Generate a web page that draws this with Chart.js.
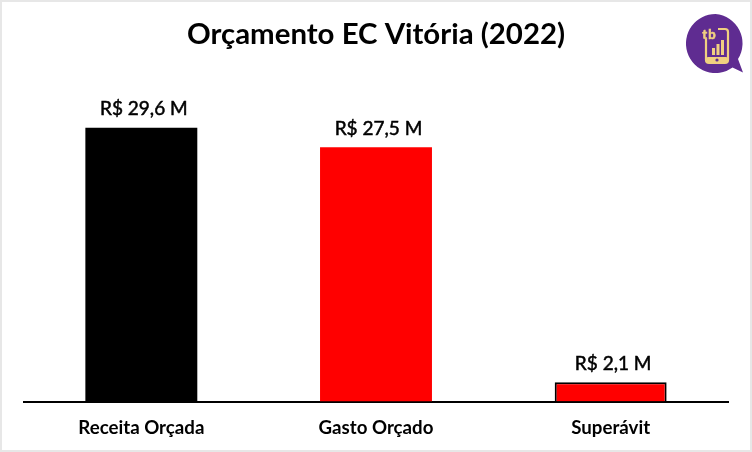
<!DOCTYPE html>
<html lang="pt-BR">
<head>
<meta charset="utf-8">
<title>Orçamento EC Vitória (2022)</title>
<script src="https://cdn.jsdelivr.net/npm/chart.js@4"></script>
<style>
  html, body { margin: 0; padding: 0; background: #fff; }
  #wrap { position: relative; width: 752px; height: 452px; overflow: hidden; }
  #wrap::after { content: ''; position: absolute; inset: 0; border: 2px solid #e7e7e7; pointer-events: none; }
  #logo { position: absolute; left: 686px; top: 14px; width: 62px; height: 62px; }
</style>
</head>
<body>
<div id="wrap">
  <canvas id="chart" width="752" height="452"></canvas>
  <!-- selo "tb" do canto -->
  <svg id="logo" viewBox="0 0 62 62">
    <path d="M29.5 0a29.5 29.5 0 1 0 17 53.6l10.5 5-5-13.5A29.5 29.5 0 0 0 29.5 0z" fill="#5f2c91"/>
    <rect x="20" y="15" width="22" height="34" rx="3" fill="none" stroke="#f0d080" stroke-width="2.2"/>
    <rect x="14" y="13" width="18" height="12" fill="#5f2c91"/>
    <text x="23.5" y="24.5" text-anchor="middle" font-family="Lato" font-weight="900" font-size="13" letter-spacing="1" fill="#f0d080" stroke="#f0d080" stroke-width="0.5">tb</text>
    <rect x="20" y="43" width="22" height="6" rx="2" fill="#f0d080"/>
    <circle cx="31" cy="46" r="1.6" fill="#5f2c91"/>
    <rect x="26" y="34" width="3" height="7" fill="#f0d080"/>
    <rect x="30.5" y="30" width="3" height="11" fill="#f0d080"/>
    <rect x="35" y="26" width="3" height="15" fill="#f0d080"/>
  </svg>
</div>
<script>
// Dados (R$ milhões)
const categories = ['Receita Orçada', 'Gasto Orçado', 'Superávit'];
const values = [29.6, 27.5, 2.1];
const valueLabels = ['R$ 29,6 M', 'R$ 27,5 M', 'R$ 2,1 M'];
const barColors = ['#000000', '#ff0000', '#ff0000'];
const barBorderWidths = [0, 0, 2];

// Rótulos acima das barras
const valueLabelPlugin = {
  id: 'valueLabels',
  afterDatasetsDraw(chart) {
    const { ctx } = chart;
    const meta = chart.getDatasetMeta(0);
    ctx.save();
    ctx.font = '19px Lato';
    ctx.fillStyle = '#000';
    ctx.strokeStyle = '#000';
    ctx.lineWidth = 0.5;
    ctx.textAlign = 'center';
    ctx.textBaseline = 'bottom';
    meta.data.forEach((bar, i) => {
      ctx.fillText(valueLabels[i], bar.x + 2.5, bar.y - 9);
      ctx.strokeText(valueLabels[i], bar.x + 2.5, bar.y - 9);
    });
    ctx.restore();
  }
};

new Chart(document.getElementById('chart').getContext('2d'), {
  type: 'bar',
  data: {
    labels: categories,
    datasets: [{
      data: values,
      backgroundColor: barColors,
      borderColor: '#000',
      borderWidth: barBorderWidths,
      categoryPercentage: 1,
      barPercentage: 0.477
    }]
  },
  options: {
    responsive: false,
    animation: false,
    layout: { padding: { left: 24, right: 24, top: 0, bottom: 6 } },
    plugins: {
      legend: { display: false },
      tooltip: { enabled: false },
      title: {
        display: true,
        text: 'Orçamento EC Vitória (2022)',
        color: '#000',
        font: { family: 'Lato', size: 29.4, weight: '700' },
        padding: { top: 17, bottom: 5.3 }
      }
    },
    scales: {
      x: {
        grid: { display: false },
        border: { color: '#000', width: 2 },
        ticks: {
          color: '#000',
          padding: 7,
          maxRotation: 0,
          font: { family: 'Lato', size: 18.7, weight: '700' }
        }
      },
      y: { display: false, min: 0, max: 37.2 }
    }
  },
  plugins: [valueLabelPlugin]
});
</script>
</body>
</html>
